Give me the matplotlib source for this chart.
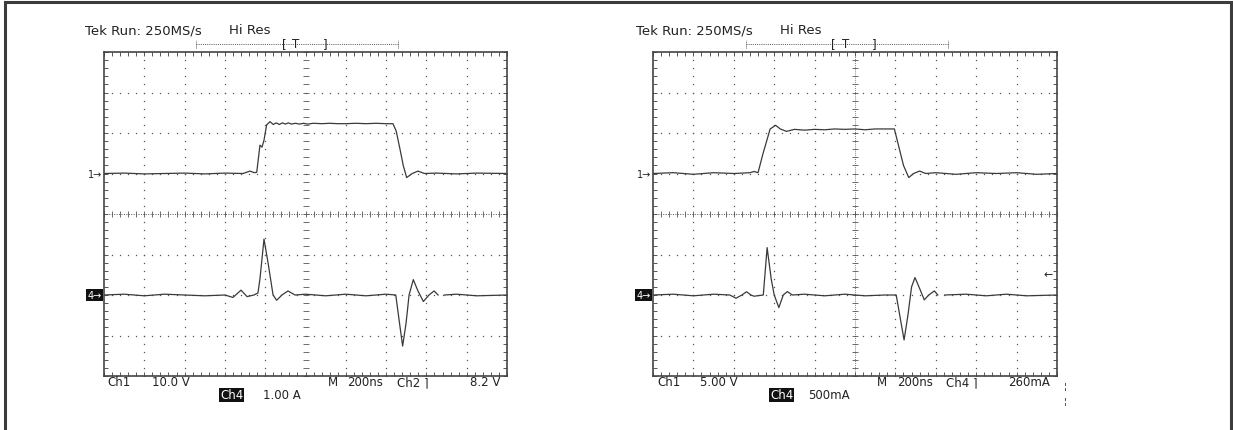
import numpy as np
import matplotlib
matplotlib.use("Agg")
import matplotlib.pyplot as plt

# time axis: 200 ns/div, 10 divisions ; vertical: 8 divisions
t_left_ch1 = [0, 100, 200, 300, 400, 500, 600, 690, 725, 745, 758, 774, 784, 794, 807, 824, 840, 855, 870,
              885, 900, 915, 930, 950, 970, 990, 1010, 1040, 1080, 1120, 1160, 1200, 1250, 1300, 1350, 1400,
              1434, 1450, 1469, 1485, 1502, 1530, 1558, 1590, 1650, 1750, 1850, 2000]
v_left_ch1 = [0, 0.1, -0.1, 0, 0.1, -0.1, 0.1, 0, 0.6, 0.2, 0.3, 7.0, 6.5, 8.2, 12.0, 12.8, 12.1, 12.5, 12.1,
              12.5, 12.2, 12.5, 12.2, 12.4, 12.2, 12.4, 12.2, 12.4, 12.3, 12.4, 12.3, 12.3, 12.4, 12.3, 12.4, 12.3,
              12.3, 10.5, 6.0, 2.0, -1.0, 0.0, 0.6, 0.0, 0.1, -0.1, 0.1, 0]

t_left_ch4 = [0, 100, 200, 300, 400, 500, 600, 640, 680, 710, 744, 764, 774, 794, 814, 839, 857, 883, 913,
              948, 1000, 1100, 1200, 1300, 1400, 1448, 1464, 1482, 1499, 1514, 1535, 1558, 1585, 1613, 1638,
              1658, 1672, 1690, 1750, 1850, 2000]
a_left_ch4 = [0, 0.02, -0.02, 0.02, 0, -0.02, 0, -0.06, 0.12, -0.04, 0, 0.05, 0.4, 1.38, 0.8, 0.0, -0.13, 0.0,
              0.1, 0.0, 0.02, -0.02, 0.02, -0.02, 0.02, 0.0, -0.6, -1.26, -0.7, 0.0, 0.38, 0.1, -0.16, 0.0,
              0.1, 0.0, np.nan, 0.0, 0.02, -0.02, 0]

t_right_ch1 = [0, 100, 200, 300, 400, 480, 500, 520, 545, 580, 607, 630, 661, 700, 750, 800, 850, 900, 950,
               1000, 1050, 1100, 1150, 1195, 1215, 1240, 1266, 1290, 1320, 1350, 1400, 1500, 1600, 1700,
               1800, 1900, 2000]
v_right_ch1 = [0, 0.1, -0.1, 0.1, 0, 0.1, 0.25, 0.1, 2.5, 5.5, 5.95, 5.5, 5.2, 5.45, 5.35, 5.45, 5.4, 5.5,
               5.45, 5.5, 5.4, 5.5, 5.5, 5.5, 3.5, 1.0, -0.5, 0.0, 0.3, 0.0, 0.1, -0.1, 0.1, 0.0, 0.1, -0.1, 0]

t_right_ch4 = [0, 100, 200, 300, 380, 411, 440, 463, 485, 500, 546, 565, 585, 600, 623, 645, 665, 690, 750,
               850, 950, 1050, 1150, 1204, 1225, 1243, 1262, 1280, 1297, 1320, 1343, 1365, 1393, 1410,
               1425, 1445, 1550, 1650, 1750, 1850, 2000]
ma_right_ch4 = [0, 10, -10, 10, 0, -40, 0, 40, 0, -15, 0, 585, 200, 0, -155, 0, 42, 0, 10, -10, 10, -10, 0,
                0, -300, -555, -250, 100, 215, 80, -60, 0, 50, 0, np.nan, 0, 10, -10, 10, -10, 0]

# channel scales (units / div) and ground offsets (div)
left_scale = {"ch1": 10.0, "ch4": 1.0}
right_scale = {"ch1": 5.0, "ch4": 500.0}
ch1_ground = 1
ch4_ground = -2
right_trig_ma = 260

edge = "\u2309"  # falling-edge trigger symbol
left_top = ("Tek Run: 250MS/s", "Hi Res")
left_bottom = ["Ch1", "10.0 V", "M", "200ns", "Ch2 " + edge, "8.2 V", "Ch4", "1.00 A"]
right_bottom = ["Ch1", "5.00 V", "M", "200ns", "Ch4 " + edge, "260mA", "Ch4", "500mA"]

W, H = 1233, 431
fig = plt.figure(figsize=(W / 100, H / 100), dpi=100)
plt.rcParams["font.family"] = ["DejaVu Sans"]

trace_col = "#3a3a3a"
grid_col = "#555555"


def scope(x0, x1, y0=53, y1=377):
    ax = fig.add_axes([x0 / W, 1 - y1 / H, (x1 - x0) / W, (y1 - y0) / H])
    ax.set_xlim(0, 2000)
    ax.set_ylim(-4, 4)
    ax.set_xticks(np.arange(0, 2001, 200))
    ax.set_xticks(np.arange(0, 2001, 40), minor=True)
    ax.set_yticks(np.arange(-4, 4.01, 1))
    ax.set_yticks(np.arange(-4, 4.01, 0.2), minor=True)
    ax.tick_params(which="both", direction="in", top=True, right=True, length=3, width=0.7,
                   color=grid_col, labelbottom=False, labelleft=False)
    for s in ax.spines.values():
        s.set_color("#444444")
        s.set_linewidth(1.2)
    # dotted graticule
    xmaj = np.arange(200, 1801, 200)
    ymaj = np.array([-3, -2, -1, 1, 2, 3])
    ymin = np.arange(-4, 4.01, 0.2)
    xmin = np.arange(0, 2001, 40)
    gx, gy = np.meshgrid(xmaj[xmaj != 1000], ymin)
    ax.plot(gx.ravel(), gy.ravel(), ls="none", marker="s", ms=0.9, mew=0, color=grid_col)
    gx, gy = np.meshgrid(xmin, ymaj)
    ax.plot(gx.ravel(), gy.ravel(), ls="none", marker="s", ms=0.9, mew=0, color=grid_col)
    # centre cross
    ax.axhline(0, color=grid_col, lw=0.7, ls=(0, (1, 1.5)))
    ax.plot(xmin, np.zeros_like(xmin), ls="none", marker="|", ms=4, mew=0.6, color=grid_col)
    ax.plot(np.full_like(ymin, 1000), ymin, ls="none", marker="_", ms=4.5, mew=0.6, color=grid_col)
    return ax


def markers(ax, trig=None):
    yt = ax.get_yaxis_transform()
    ax.text(-0.004, ch1_ground, "1\u2192", transform=yt, ha="right", va="center", fontsize=7,
            color="#222222", clip_on=False)
    ax.text(-0.006, ch4_ground, "4\u2192", transform=yt, ha="right", va="center", fontsize=7,
            color="white", clip_on=False,
            bbox=dict(boxstyle="square,pad=0.1", fc="#111111", ec="none"))
    if trig is not None:
        ax.text(0.99, trig, "\u2190", transform=yt, ha="right", va="center", fontsize=8, color="#222222")
    # record window bracket above graticule
    xt = ax.get_xaxis_transform()
    ax.plot([458, 1460], [1.025, 1.025], transform=xt, clip_on=False, color=grid_col, lw=0.7,
            ls=(0, (1, 1.2)))
    for xe in (458, 1460):
        ax.plot([xe, xe], [1.012, 1.038], transform=xt, clip_on=False, color=grid_col, lw=0.7,
                ls=(0, (1, 1)))
    for xe, s in ((893, "["), (953, "T"), (1097, "]")):
        ax.text(xe, 1.025, s, transform=xt, ha="center", va="center", fontsize=8.5, color="#222222",
                clip_on=False)


def header(x0, txt, dx):
    fig.text(x0 / W, 1 - 31 / H, txt[0], ha="left", va="center", fontsize=9.5, color="#222222")
    fig.text((x0 + dx) / W, 1 - 31 / H, txt[1], ha="left", va="center", fontsize=9.5, color="#222222")


def footer(labels, xs):
    for i, (lab, x) in enumerate(zip(labels, xs)):
        y = 383 if i < 6 else 396
        kw = {}
        col = "#222222"
        if i == 6:
            col = "white"
            kw["bbox"] = dict(boxstyle="square,pad=0.05", fc="#111111", ec="none")
        fig.text(x / W, 1 - y / H, lab, ha="left", va="center", fontsize=8.5, color=col, **kw)


# left oscilloscope
axl = scope(104, 507)
axl.plot(t_left_ch1, np.array(v_left_ch1) / left_scale["ch1"] + ch1_ground, color=trace_col, lw=0.9)
axl.plot(t_left_ch4, np.array(a_left_ch4) / left_scale["ch4"] + ch4_ground, color=trace_col, lw=0.9)
markers(axl)
header(85, left_top, 144)
footer(left_bottom, [107, 152, 328, 347, 397, 470, 220, 263])

# right oscilloscope
axr = scope(653, 1057)
axr.axvline(1000, color=grid_col, lw=0.6, ls=(0, (1, 1.5)))
axr.plot(t_right_ch1, np.array(v_right_ch1) / right_scale["ch1"] + ch1_ground, color=trace_col, lw=0.9)
axr.plot(t_right_ch4, np.array(ma_right_ch4) / right_scale["ch4"] + ch4_ground, color=trace_col, lw=0.9)
markers(axr, trig=ch4_ground + right_trig_ma / right_scale["ch4"])
header(636, left_top, 144)
footer(right_bottom, [657, 700, 877, 897, 946, 1008, 770, 808])
fig.text(1064 / W, 1 - 387 / H, "\u00a6", fontsize=6, ha="left", va="center", color="#222222")
fig.text(1064 / W, 1 - 402 / H, "\u00a6", fontsize=6, ha="left", va="center", color="#222222")

# outer frame (top, left, right)
ov = fig.add_axes([0, 0, 1, 1], facecolor="none")
ov.set_xlim(0, W)
ov.set_ylim(H, 0)
ov.axis("off")
ov.plot([5, 5, 1231, 1231], [H, 3, 3, H], color="#3c3c3c", lw=2.2, solid_joinstyle="miter")

fig.savefig("out.png", dpi=100)
